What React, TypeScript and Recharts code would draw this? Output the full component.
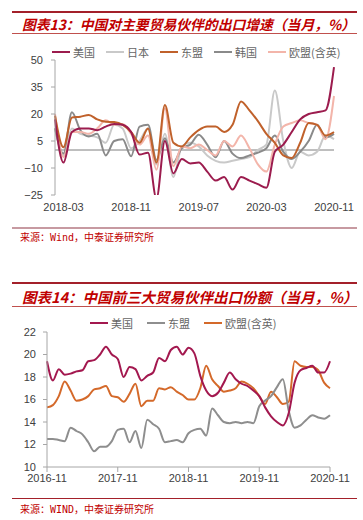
import { LineChart, Line, XAxis, YAxis, ReferenceLine } from "recharts";

// 图表13：出口增速（当月，%），2018-02 ~ 2020-11
const growthMonths = [
  "2018-02", "2018-03", "2018-04", "2018-05", "2018-06", "2018-07", "2018-08", "2018-09",
  "2018-10", "2018-11", "2018-12", "2019-01", "2019-02", "2019-03", "2019-04", "2019-05",
  "2019-06", "2019-07", "2019-08", "2019-09", "2019-10", "2019-11", "2019-12", "2020-01",
  "2020-02", "2020-03", "2020-04", "2020-05", "2020-06", "2020-07", "2020-08", "2020-09",
  "2020-10", "2020-11",
];
const usGrowth = [17, -7, 10, 12, 12, 11, 13, 14.5, 14, 10, -2.5, -1.5, -27, 5, -13, -5, -7.5, -7, -12, -17, -15, -22, -15, -17, -19, -21, -1, 3, 10, 17, 20, 21, 22, 46];
const japanGrowth = [12, -3, 12, 9, 8, 7, 4, 14, 12, 1, 5, 12, -8, 9, -15, 2, 4, 2, -3, -6, -7, -6, -5, -4, 0, 3, 33, 5, -10, -1, -3, -1, 8, 6];
const aseanGrowth = [19, 1.5, 18, 18.5, 19.5, 17, 15.7, 15.5, 14, 10, 4, 12, -7, 25, 4, 2, 7, 11, 13, 13, 10, 14, 27, 22, 16, 9, 4, -3, -4.5, 4, 15, 14, 8, 10];
const koreaGrowth = [12, -2, 21, 11, 7.5, 9, -3, 5, 6, -3.5, 13, 14, -5.5, 6.5, -7, 1, 3, 8.5, 3, -4, 5, -2, -4.5, -3, -1.5, 1, 8, -1, -5, -1, 5, 14, 7, 9];
const euGrowth = [20, -4, 10, 10, 9, 12, 16.5, 14, 14.5, 9, 3, 8, -11, 23, -9, 2, 1, 3, 0, -3, 5, 2, 8, 1, -8, -12, 3, 13, 15, 16.5, 15, 14, 6, 30];
const growthXTicks = ["2018-03", "2018-11", "2019-07", "2020-03", "2020-11"];
const growthYTicks = [-25, -10, 5, 20, 35, 50];

// 图表14：出口份额（当月，%），2016-11 ~ 2020-11
const shareMonths = [
  "2016-11", "2016-12", "2017-01", "2017-02", "2017-03", "2017-04", "2017-05", "2017-06",
  "2017-07", "2017-08", "2017-09", "2017-10", "2017-11", "2017-12", "2018-01", "2018-02",
  "2018-03", "2018-04", "2018-05", "2018-06", "2018-07", "2018-08", "2018-09", "2018-10",
  "2018-11", "2018-12", "2019-01", "2019-02", "2019-03", "2019-04", "2019-05", "2019-06",
  "2019-07", "2019-08", "2019-09", "2019-10", "2019-11", "2019-12", "2020-01", "2020-02",
  "2020-03", "2020-04", "2020-05", "2020-06", "2020-07", "2020-08", "2020-09", "2020-10",
  "2020-11",
];
const usShare = [19.4, 17.7, 18.7, 18.2, 18.3, 18.5, 18.6, 19.4, 19.5, 20.0, 20.7, 20.0, 19.6, 18.0, 18.9, 18.7, 17.7, 18.1, 18.4, 19.7, 19.4, 20.4, 20.7, 20.0, 20.6, 20.1, 18.1, 16.8, 16.3, 16.6, 17.5, 18.4, 17.8, 17.4, 17.2, 16.8, 16.3, 15.3, 14.5, 14.0, 13.7, 14.8, 17.5, 18.6, 18.8, 19.0, 18.4, 18.4, 19.4];
const aseanShare = [12.5, 12.5, 12.4, 12.3, 13.5, 13.2, 12.9, 12.2, 11.4, 11.8, 11.8, 12.3, 13.3, 13.4, 12.2, 13.2, 11.7, 14.2, 13.8, 13.4, 12.2, 12.3, 12.4, 12.2, 13.0, 13.3, 13.4, 12.8, 15.2, 14.6, 14.0, 13.9, 14.0, 13.9, 14.0, 13.9, 15.4, 15.9, 16.3, 17.1, 17.8, 15.0, 13.5, 13.7, 14.2, 14.6, 14.4, 14.3, 14.6];
const euShare = [15.3, 15.5, 16.3, 17.6, 16.8, 15.9, 16.0, 16.3, 16.9, 17.0, 17.2, 16.3, 16.2, 15.8, 16.5, 17.4, 15.4, 15.9, 15.9, 17.0, 16.9, 17.1, 16.7, 16.4, 16.0, 16.0, 17.0, 19.0, 17.8, 17.2, 16.7, 16.8, 17.0, 17.6, 17.4, 17.0, 16.3, 15.6, 16.7, 16.2, 15.6, 15.8, 19.4, 19.0, 18.9, 18.9, 18.6, 17.5, 17.0];
const shareXTicks = ["2016-11", "2017-11", "2018-11", "2019-11", "2020-11"];
const shareYTicks = [10, 12, 14, 16, 18, 20, 22];

const growthData = growthMonths.map((month, i) => ({
  month,
  us: usGrowth[i],
  japan: japanGrowth[i],
  asean: aseanGrowth[i],
  korea: koreaGrowth[i],
  eu: euGrowth[i],
}));

const shareData = shareMonths.map((month, i) => ({
  month,
  us: usShare[i],
  asean: aseanShare[i],
  eu: euShare[i],
}));

const growthSeries = [
  { key: "us", name: "美国", color: "#9c1c4e" },
  { key: "japan", name: "日本", color: "#c9c9c9" },
  { key: "asean", name: "东盟", color: "#c0612b" },
  { key: "korea", name: "韩国", color: "#8a8a8a" },
  { key: "eu", name: "欧盟(含英)", color: "#f3b5aa" },
];
// 绘制顺序（浅色在下）
const growthDrawOrder = ["japan", "korea", "eu", "asean", "us"];

const shareSeries = [
  { key: "us", name: "美国", color: "#a3184f" },
  { key: "asean", name: "东盟", color: "#8e8e8e" },
  { key: "eu", name: "欧盟(含英)", color: "#d4692a" },
];

const CJK = '"Noto Sans CJK SC", sans-serif';
const NUM = '"Liberation Sans", Arial, sans-serif';
const RED = "#c00000";
const tickStyle = { fontSize: 11, fill: "#404040", fontFamily: NUM };
const minus = (v: number) => String(v).replace("-", "\u2212");

function Rule({ top, height, color }: { top: number; height: number; color: string }) {
  return (
    <div style={{ position: "absolute", left: 12, width: 345, top, height, background: color }} />
  );
}

function Title({ top, text, size }: { top: number; text: string; size: number }) {
  return (
    <div
      style={{
        position: "absolute",
        left: 22,
        top,
        lineHeight: "20px",
        fontSize: size,
        fontWeight: 700,
        fontStyle: "italic",
        color: RED,
        fontFamily: CJK,
        whiteSpace: "nowrap",
      }}
    >
      {text}
    </div>
  );
}

function Source({ top, text }: { top: number; text: string }) {
  return (
    <div
      style={{
        position: "absolute",
        left: 20,
        top,
        lineHeight: "14px",
        fontSize: 10,
        color: RED,
        fontFamily: '"DejaVu Sans Mono", "Noto Sans CJK SC", monospace',
        whiteSpace: "nowrap",
      }}
    >
      {text}
    </div>
  );
}

function LegendRow({
  items,
  left,
  top,
  gap,
}: {
  items: { key: string; name: string; color: string }[];
  left: number;
  top: number;
  gap: number;
}) {
  return (
    <div
      style={{
        position: "absolute",
        left,
        top,
        display: "flex",
        alignItems: "center",
        gap,
        fontSize: 11,
        lineHeight: "14px",
        color: "#666",
        fontFamily: CJK,
        whiteSpace: "nowrap",
      }}
    >
      {items.map((s) => (
        <div key={s.key} style={{ display: "flex", alignItems: "center" }}>
          <span style={{ display: "inline-block", width: 18, height: 2, background: s.color, marginRight: 3 }} />
          <span>{s.name}</span>
        </div>
      ))}
    </div>
  );
}

export default function App() {
  return (
    <div style={{ position: "absolute", left: 0, top: 0, width: 363, height: 520, background: "#fff" }}>
      {/* 图表13 */}
      <Rule top={11} height={2} color="#a3202a" />
      <Title top={14} size={13.8} text="图表13：中国对主要贸易伙伴的出口增速（当月，%）" />
      <Rule top={33} height={1} color="#c0504d" />
      <LegendRow items={growthSeries} left={52} top={45} gap={11} />
      <div style={{ position: "absolute", left: 0, top: 48 }}>
        <LineChart width={363} height={175} data={growthData} margin={{ top: 12, right: 29, bottom: 8, left: 10 }}>
          <XAxis
            dataKey="month"
            ticks={growthXTicks}
            interval={0}
            axisLine={false}
            tickLine={false}
            height={20}
            tick={tickStyle}
          />
          <YAxis
            domain={[-25, 50]}
            ticks={growthYTicks}
            allowDataOverflow
            width={45}
            axisLine={{ stroke: "#a6a6a6" }}
            tickLine={{ stroke: "#a6a6a6" }}
            tickSize={4}
            tickMargin={8}
            tick={tickStyle}
            tickFormatter={minus}
          />
          <ReferenceLine y={0} stroke="#7f7f7f" strokeWidth={1} />
          {growthDrawOrder.map((k) => {
            const s = growthSeries.find((g) => g.key === k)!;
            return (
              <Line
                key={k}
                type="monotone"
                dataKey={k}
                name={s.name}
                stroke={s.color}
                strokeWidth={2}
                dot={false}
                isAnimationActive={false}
              />
            );
          })}
        </LineChart>
      </div>
      <Rule top={227} height={2} color="#c79aa1" />
      <Source top={231} text="来源：Wind，中泰证券研究所" />

      {/* 图表14 */}
      <Rule top={282} height={2} color="#a3202a" />
      <Title top={287} size={14.5} text="图表14：中国前三大贸易伙伴出口份额（当月，%）" />
      <Rule top={306} height={1} color="#c0504d" />
      <LegendRow items={shareSeries} left={90} top={316} gap={14} />
      <div style={{ position: "absolute", left: 0, top: 322 }}>
        <LineChart width={363} height={175} data={shareData} margin={{ top: 10, right: 33, bottom: 10, left: 10 }}>
          <XAxis
            dataKey="month"
            ticks={shareXTicks}
            interval={0}
            axisLine={{ stroke: "#a6a6a6" }}
            tickLine={{ stroke: "#a6a6a6" }}
            tickSize={5}
            height={20}
            tick={tickStyle}
          />
          <YAxis
            domain={[10, 22]}
            ticks={shareYTicks}
            width={37}
            axisLine={{ stroke: "#a6a6a6" }}
            tickLine={{ stroke: "#a6a6a6" }}
            tickSize={4}
            tickMargin={7}
            tick={tickStyle}
          />
          {shareSeries
            .slice()
            .reverse()
            .map((s) => (
              <Line
                key={s.key}
                type="monotone"
                dataKey={s.key}
                name={s.name}
                stroke={s.color}
                strokeWidth={2}
                dot={false}
                isAnimationActive={false}
              />
            ))}
        </LineChart>
      </div>
      <Rule top={498} height={1} color="#a3202a" />
      <Source top={503} text="来源：WIND，中泰证券研究所" />
    </div>
  );
}
